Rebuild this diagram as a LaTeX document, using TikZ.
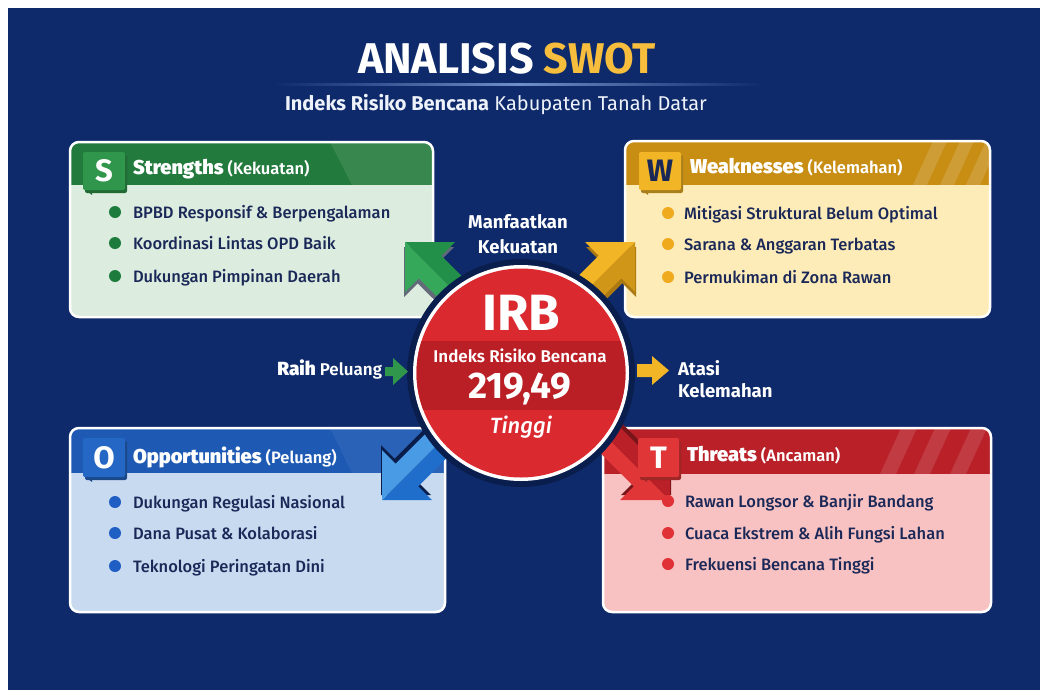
\documentclass[tikz,border=0pt]{standalone}
\usepackage{fontspec}
\setmainfont{Fira Sans}
\IfFontExistsTF{Fira Sans SemiBold}{\newfontfamily\fsemi{Fira Sans SemiBold}}{\newfontfamily\fsemi{Fira Sans}[FakeBold=1.1]}
\IfFontExistsTF{Fira Sans Medium}{\newfontfamily\fmed{Fira Sans Medium}}{\newfontfamily\fmed{Fira Sans}[FakeBold=0.7]}
\IfFontExistsTF{Fira Sans Medium Italic}{\newfontfamily\fmedit{Fira Sans Medium Italic}}{\newcommand\fmedit{\itshape}}
\newcommand\fsz[1]{\fontsize{#1}{#1}\selectfont}
\definecolor{bg}{HTML}{0E2A6A}
\definecolor{gold}{HTML}{F6BE3C}
\definecolor{sepblue}{HTML}{6F8FC8}
\definecolor{subwhite}{HTML}{EEF2FA}
\definecolor{navytext}{HTML}{1A2858}
\definecolor{shead}{HTML}{227A3C}
\definecolor{sbadge}{HTML}{2F964B}
\definecolor{sbody}{HTML}{DCECDE}
\definecolor{sdot}{HTML}{1E7B3E}
\definecolor{whead}{HTML}{C88E14}
\definecolor{wbadge}{HTML}{F2B526}
\definecolor{wbody}{HTML}{FDEBB8}
\definecolor{wdot}{HTML}{F0AA1E}
\definecolor{ohead}{HTML}{1E5AB4}
\definecolor{obadge}{HTML}{2567C4}
\definecolor{obody}{HTML}{C8DAF0}
\definecolor{odot}{HTML}{1F5FC4}
\definecolor{thead}{HTML}{B92028}
\definecolor{tbadge}{HTML}{E03638}
\definecolor{tbody}{HTML}{F9C2C2}
\definecolor{tdot}{HTML}{E03236}
\definecolor{irbred}{HTML}{DA2A30}
\definecolor{irbdark}{HTML}{BA1F26}
\definecolor{ringdark}{HTML}{0A1E4E}
\definecolor{garrA}{HTML}{23904A}
\definecolor{garrB}{HTML}{36A85A}
\definecolor{barrA}{HTML}{1F6ECB}
\definecolor{barrB}{HTML}{4A9BE5}
\newcommand\swotbox[8]{%
  \begin{scope}
    \clip[rounded corners=9pt] (#1,#2) rectangle (#3,#4);
    \fill[#7] (#1,#2) rectangle (#3,#4);
    \fill[#6] (#1,#2) rectangle (#3,#5);
    #8
  \end{scope}
  \draw[white, line width=2.5pt, rounded corners=9pt] (#1,#2) rectangle (#3,#4);
}
\newcommand\badge[6]{%
  \fill[#5!70!black, rounded corners=2pt] (#1+2,#2+3) rectangle (#3+2,#4+3);
  \fill[#5!70!black] (#1,#4-2) -- (#1+9,#4-2) -- (#1+9,#4+5) -- cycle;
  \fill[#5, rounded corners=2pt] (#1,#2) rectangle (#3,#4);
}
\newcommand\bigarrow[7]{%
  \begin{scope}[shift={(#1,#2)}, xscale=#3, yscale=#4]
    \begin{scope}[shift={(-1,5)}]
      \fill[#7] (0,0) -- (50,0) -- (36.3,13.7) -- (116.3,93.7) -- (93.7,116.3) -- (13.7,36.3) -- (0,50) -- cycle;
    \end{scope}
    \fill[#5] (0,0) -- (50,0) -- (36.3,13.7) -- (116.3,93.7) -- (105,105) -- cycle;
    \fill[#6] (0,0) -- (105,105) -- (93.7,116.3) -- (13.7,36.3) -- (0,50) -- cycle;
  \end{scope}
}
\begin{document}
\begin{tikzpicture}[x=1pt,y=-1pt,
  txt/.style={inner sep=0pt, outer sep=0pt},
  item/.style={txt, anchor=base west, text=navytext, font=\fmed\fsz{16.5}},
  head/.style={txt, anchor=base west, text=white, font=\fsemi\fsz{16.5}},
  side/.style={txt, text=white, font=\bfseries\fsz{18.5}},
  letter/.style={txt, anchor=center, font=\bfseries\fsz{31}}]
\useasboundingbox (0,0) rectangle (1046,697);
\fill[white] (0,0) rectangle (1046,697);
\fill[bg] (8,8) rectangle (1040,690);

% title
\node[txt, anchor=base, font=\bfseries\fsz{43}, text=white] (title) at (507,73) {ANALISIS \textcolor{gold}{SWOT}};
\shade[left color=bg, right color=bg, middle color=sepblue] (273,83.5) rectangle (763,85);
\node[txt, anchor=base, font=\fsz{20}, text=subwhite] (subtitle) at (496,110) {\textbf{Indeks Risiko Bencana} Kabupaten Tanah Datar};

% boxes
\swotbox{70}{142}{433}{317}{185}{shead}{sbody}{\fill[white,opacity=.1] (330,142) -- (440,142) -- (440,185) -- (352,185) -- cycle;}
\swotbox{625}{141}{990}{317}{185}{whead}{wbody}{\foreach \a in {913,940,966}{\fill[white,opacity=.14] (\a,185) -- (\a+14,185) -- (\a+34,141) -- (\a+20,141) -- cycle;}}
\swotbox{70}{428}{445}{612}{473}{ohead}{obody}{\fill[white,opacity=.05] (330,428) -- (450,428) -- (450,473) -- (352,473) -- cycle;}
\swotbox{603}{428}{991}{612}{474}{thead}{tbody}{\foreach \a in {880,914,950}{\fill[white,opacity=.12] (\a,474) -- (\a+16,474) -- (\a+37,428) -- (\a+21,428) -- cycle;}}

% big arrows
\bigarrow{405}{242}{1}{1}{garrA}{garrB}{gray!75!bg}
\bigarrow{635}{242}{-1}{1}{wbadge}{whead!80!wbadge}{whead!85!black}
\bigarrow{382}{500}{1}{-1}{barrA}{barrB}{black!30!bg}
\bigarrow{670}{500}{-1}{-1}{tbadge}{thead}{black!35!thead}

% badges
\badge{83}{152}{125}{190}{sbadge}{S}
\node[letter, text=white] (sl) at (104,171) {S};
\badge{639}{152}{681}{190}{wbadge}{W}
\node[letter, text=navytext] (wl) at (660,171) {W};
\badge{83}{438}{125}{477}{obadge}{O}
\node[letter, text=white] (ol) at (104,457.5) {O};
\badge{638}{438}{679}{477}{tbadge}{T}
\node[letter, text=white] (tl) at (658.5,457.5) {T};

% headers
\node[head] (sh) at (133,174) {{\bfseries\fsz{20}Strengths} (Kekuatan)};
\node[head] (wh) at (690,173) {{\bfseries\fsz{20}Weaknesses} (Kelemahan)};
\node[head] (oh) at (133,463) {{\bfseries\fsz{20}Opportunities} (Peluang)};
\node[head] (th) at (687,461) {{\bfseries\fsz{20}Threats} (Ancaman)};

% bullets
\foreach \y/\t [count=\i] in {212/BPBD Responsif \& Berpengalaman, 243/Koordinasi Lintas OPD Baik, 276/Dukungan Pimpinan Daerah}{
  \fill[sdot] (115,\y) circle[radius=6pt];
  \node[item] (s\i) at (133,\y+6) {\t};}
\foreach \y/\t [count=\i] in {213/Mitigasi Struktural Belum Optimal, 244/Sarana \& Anggaran Terbatas, 277/Permukiman di Zona Rawan}{
  \fill[wdot] (668,\y) circle[radius=6pt];
  \node[item] (w\i) at (684,\y+6) {\t};}
\foreach \y/\t [count=\i] in {502/Dukungan Regulasi Nasional, 533/Dana Pusat \& Kolaborasi, 566/Teknologi Peringatan Dini}{
  \fill[odot] (115,\y) circle[radius=6pt];
  \node[item] (o\i) at (133,\y+6) {\t};}
\foreach \y/\t [count=\i] in {501/Rawan Longsor \& Banjir Bandang, 533/Cuaca Ekstrem \& Alih Fungsi Lahan, 564/Frekuensi Bencana Tinggi}{
  \fill[tdot] (668,\y) circle[radius=6pt];
  \node[item] (t\i) at (685,\y+6) {\t};}

% circle
\fill[ringdark] (521,373) circle[radius=114pt];
\fill[white] (521,373) circle[radius=108pt];
\begin{scope}
  \clip (521,373) circle[radius=104.5pt];
  \fill[irbred] (400,250) rectangle (650,500);
  \fill[irbdark] (400,341) rectangle (650,410);
\end{scope}
\node[txt, anchor=base, font=\bfseries\fsz{51}, text=white] (irb) at (521,330) {IRB};
\node[txt, anchor=base, font=\fsemi\fsz{17}, text=white] (irbname) at (520,362) {Indeks Risiko Bencana};
\node[txt, anchor=base, font=\bfseries\fsz{37}, text=white] (irbval) at (520,398) {219,49};
\node[txt, anchor=base, font=\fmedit\fsz{22}, text=white] (irbcat) at (521,433) {Tinggi};

% side labels
\node[side, anchor=base] (manf) at (518,228) {Manfaatkan};
\node[side, anchor=base] (kek) at (518,253) {Kekuatan};
\node[txt, anchor=base east, text=white, font=\fsemi\fsz{17}] (raih) at (382,375) {{\bfseries\fsz{19}Raih} Peluang};
\node[side, anchor=base west] (atasi) at (678,375) {Atasi};
\node[side, anchor=base west] (kel) at (678,397) {Kelemahan};
\fill[sbadge] (385,367) -- (393,367) -- (393,358) -- (408,371.5) -- (393,385) -- (393,376) -- (385,376) -- cycle;
\fill[wbadge] (637,364) -- (652,364) -- (652,356) -- (669,370.5) -- (652,385) -- (652,377) -- (637,377) -- cycle;
\end{tikzpicture}
\end{document}
